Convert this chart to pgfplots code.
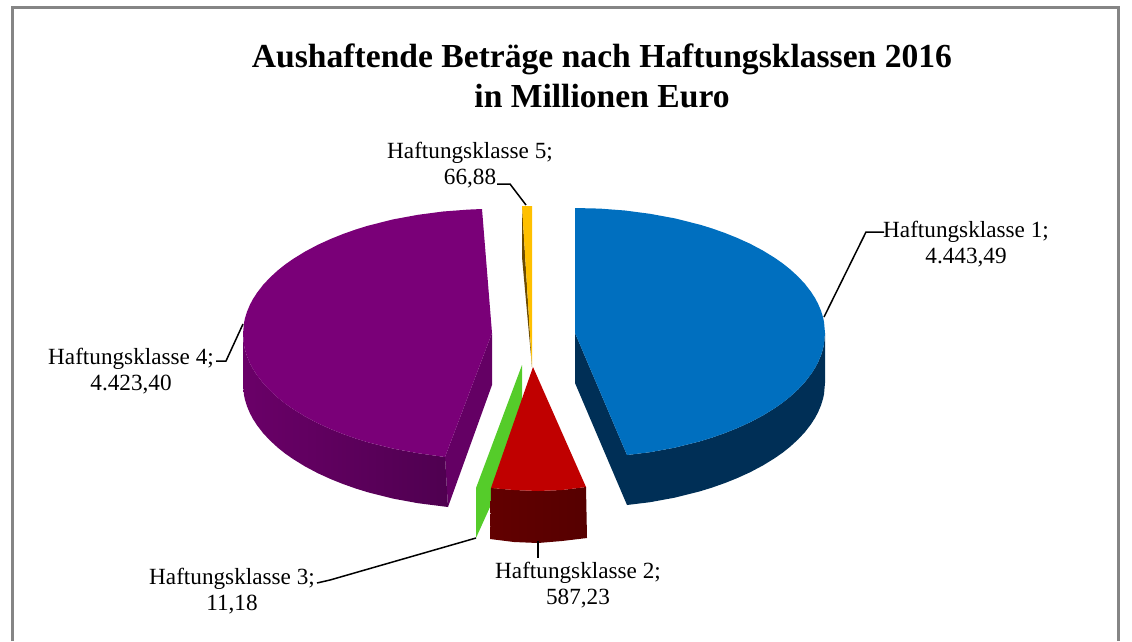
\documentclass[border=0pt]{standalone}
\usepackage{fontspec}
\setmainfont{Liberation Serif}
\usepackage{pgfplots}
\pgfplotsset{compat=1.18}
\definecolor{cblue}{HTML}{006FBF}
\definecolor{cblues}{HTML}{002F56}
\definecolor{cpur}{HTML}{7A0078}
\definecolor{cpurs}{HTML}{640064}
\definecolor{cpurl}{HTML}{6A0068}
\definecolor{cpurd}{HTML}{4F0050}
\definecolor{cred}{HTML}{C00000}
\definecolor{credl}{HTML}{620000}
\definecolor{credm}{HTML}{560000}
\definecolor{cgreen}{HTML}{55CC2A}
\definecolor{corange}{HTML}{FFC000}
\definecolor{cbrown}{HTML}{6B4A00}
\definecolor{cframe}{HTML}{858585}
\begin{document}
\begin{tikzpicture}
\begin{axis}[
  width=1132pt, height=641pt, scale only axis,
  xmin=0, xmax=1132, ymin=0, ymax=641, y dir=reverse,
  hide axis, clip=true,
  every axis plot/.append style={forget plot},
]
% page extent
\addplot[draw=white, line width=0.4pt] coordinates {(0,0) (1132,0) (1132,641) (0,641) (0,0)};
% frame
\addplot[draw=cframe, line width=3pt] coordinates {(12,641) (12,7) (1118,7) (1118,641)};
% purple (Haftungsklasse 4): apex side, outer side, top
\addplot[fill=cpurs, draw=none] coordinates {(492,333) (445,457) (448,507) (492,385)};
\addplot[shade, left color=cpurl, right color=cpurd, draw=none] coordinates {(243,334) (244,345.2) (245,349.8) (247,356.3) (250,363.4) (253,369) (257,375.2) (263,383) (270,390.5) (278,397.8) (285,403.4) (293,409) (305,416.4) (318,423.3) (331,429.2) (343,434) (356,438.6) (368,442.3) (393,448.6) (418,453.2) (445,457) (448,507) (418,503.2) (393,498.6) (368,492.3) (356,488.6) (343,484) (331,479.2) (318,473.3) (305,466.4) (293,459) (285,453.4) (278,447.8) (270,440.5) (263,433) (257,425.2) (253,419) (250,413.4) (247,406.3) (245,399.8) (244,395.2) (243,384)};
\addplot[fill=cpur, draw=none] coordinates {(482,209) (468,209.6) (443,211.5) (418,214.8) (393,219.4) (368,225.7) (356,229.4) (343,234) (331,238.8) (318,244.7) (305,251.6) (293,259) (285,264.6) (278,270.2) (270,277.5) (263,285) (257,292.8) (253,299) (250,304.6) (247,311.7) (245,318.2) (244,322.8) (243,334) (244,345.2) (245,349.8) (247,356.3) (250,363.4) (253,369) (257,375.2) (263,383) (270,390.5) (278,397.8) (285,403.4) (293,409) (305,416.4) (318,423.3) (331,429.2) (343,434) (356,438.6) (368,442.3) (393,448.6) (418,453.2) (445,457) (492,333)};
% blue (Haftungsklasse 1)
\addplot[fill=cblues, draw=none] coordinates {(575,333) (575,383) (627,505) (627,455)};
\addplot[fill=cblues, draw=none] coordinates {(825,333) (824,344.2) (823,348.8) (821,355.3) (818,362.4) (815,368) (811,374.2) (805,382) (798,389.5) (790,396.8) (783,402.4) (775,408) (763,415.4) (750,422.3) (737,428.2) (725,433) (712,437.6) (700,441.3) (675,447.6) (650,452.2) (627,455) (627,505) (650,502.2) (675,497.6) (700,491.3) (712,487.6) (725,483) (737,478.2) (750,472.3) (763,465.4) (775,458) (783,452.4) (790,446.8) (798,439.5) (805,432) (811,424.2) (815,418) (818,412.4) (821,405.3) (823,398.8) (824,394.2) (825,383)};
\addplot[fill=cblue, draw=none] coordinates {(575,208) (600,208.6) (625,210.5) (650,213.8) (675,218.4) (700,224.7) (712,228.4) (725,233) (737,237.8) (750,243.7) (763,250.6) (775,258) (783,263.6) (790,269.2) (798,276.5) (805,284) (811,291.8) (815,298) (818,303.6) (821,310.7) (823,317.2) (824,321.8) (825,333) (824,344.2) (823,348.8) (821,355.3) (818,362.4) (815,368) (811,374.2) (805,382) (798,389.5) (790,396.8) (783,402.4) (775,408) (763,415.4) (750,422.3) (737,428.2) (725,433) (712,437.6) (700,441.3) (675,447.6) (650,452.2) (627,455) (575,333)};
% orange (Haftungsklasse 5)
\addplot[fill=cbrown, draw=none] coordinates {(522,206) (532,367) (522,257)};
\addplot[fill=corange, draw=none] coordinates {(522,206) (532,206) (532,367)};
% green (Haftungsklasse 3)
\addplot[fill=cgreen, draw=none] coordinates {(522,365) (476,488) (476,538) (490,507) (522,420)};
% red (Haftungsklasse 2)
\addplot[shade, left color=credl, right color=credm, draw=none] coordinates {(491,488) (490,539) (514,542) (538,543) (562,541) (587,538) (586,487) (562,490) (538,491) (514,490)};
\addplot[fill=cred, draw=none] coordinates {(533,367) (491,488) (514,490) (538,491) (562,490) (586,487)};
% leader lines
\addplot[black, line width=1.5pt] coordinates {(884,232) (866,232) (824,317)};
\addplot[black, line width=1.5pt] coordinates {(497,184) (510,184) (526,205)};
\addplot[black, line width=1.5pt] coordinates {(216,361) (226,361) (243,324)};
\addplot[black, line width=1.5pt] coordinates {(317,583) (330,580) (476,538)};
\addplot[black, line width=1.5pt] coordinates {(538,541) (538,558)};
% texts
\node[font=\fontsize{33.6}{33.6}\selectfont\bfseries] at (axis cs:602,59) {Aushaftende Beträge nach Haftungsklassen 2016};
\node[font=\fontsize{33.6}{33.6}\selectfont\bfseries] at (axis cs:602,96) {in Millionen Euro};
\def\lab#1#2#3#4{%
 \node[font=\fontsize{23.2}{23.2}\selectfont] at (axis cs:#1,#2+3) {#3};
 \node[font=\fontsize{23.2}{23.2}\selectfont] at (axis cs:#1,#2+28.5) {#4};}
\lab{966}{229}{Haftungsklasse 1;}{4.443,49}
\lab{470}{150}{Haftungsklasse 5;}{66,88}
\lab{131}{356}{Haftungsklasse 4;}{4.423,40}
\lab{232}{576}{Haftungsklasse 3;}{11,18}
\lab{578}{570}{Haftungsklasse 2;}{587,23}
\end{axis}
\end{tikzpicture}
\end{document}
